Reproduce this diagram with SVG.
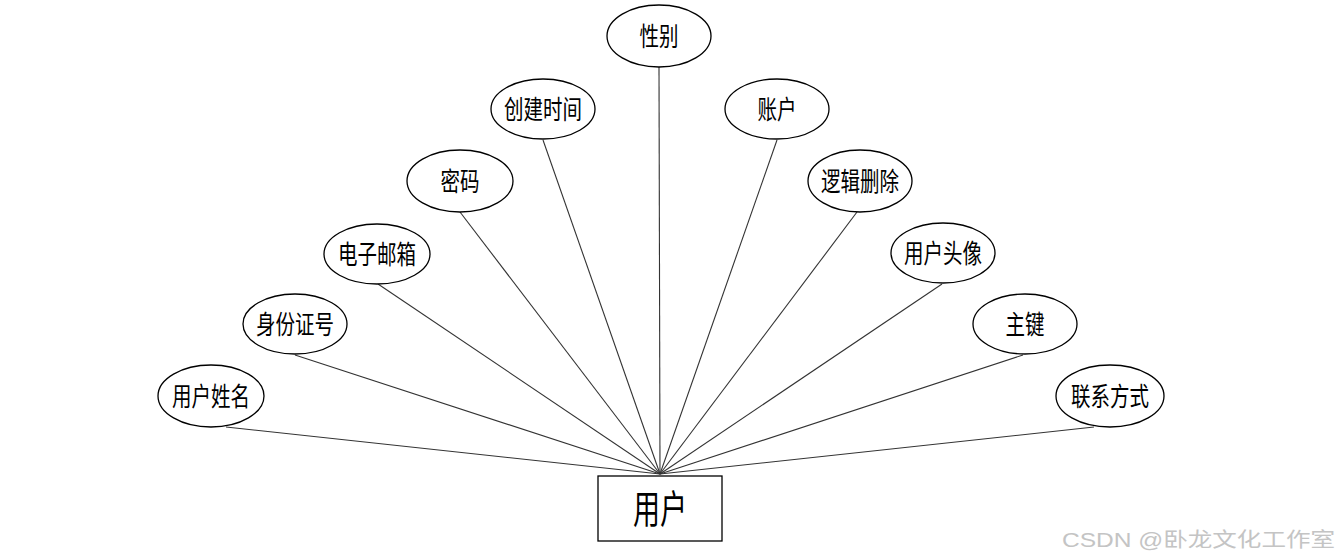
<svg xmlns="http://www.w3.org/2000/svg" width="1340" height="560" viewBox="0 0 1340 560">
<style>
.e{fill:#fff;stroke:#000;stroke-width:1.3}
.t{font-family:"Noto Sans CJK SC","Liberation Sans",sans-serif;font-size:26px;fill:#000;text-anchor:middle}
.c line{stroke:#333;stroke-width:1.1}
</style>
<rect width="1340" height="560" fill="#fff"/>
<g id="connectors" class="c">
<line x1="659" y1="67" x2="660" y2="474"/>
<line x1="543" y1="140" x2="660" y2="474"/>
<line x1="777" y1="140" x2="660" y2="474"/>
<line x1="460" y1="212" x2="660" y2="474"/>
<line x1="857" y1="212" x2="660" y2="474"/>
<line x1="378" y1="284" x2="660" y2="474"/>
<line x1="942" y1="284" x2="660" y2="474"/>
<line x1="295" y1="355" x2="660" y2="474"/>
<line x1="1023" y1="355" x2="660" y2="474"/>
<line x1="226" y1="427" x2="660" y2="474"/>
<line x1="1094" y1="427" x2="660" y2="474"/>
</g>
<g id="n-xingbie"><ellipse class="e" cx="659" cy="36" rx="52" ry="31"/><text class="t" x="659" y="46" textLength="39" lengthAdjust="spacingAndGlyphs">性别</text></g>
<g id="n-chuangjianshijian"><ellipse class="e" cx="543" cy="109" rx="52" ry="30"/><text class="t" x="543" y="119" textLength="78" lengthAdjust="spacingAndGlyphs">创建时间</text></g>
<g id="n-zhanghu"><ellipse class="e" cx="777" cy="109" rx="52" ry="30"/><text class="t" x="777" y="119" textLength="39" lengthAdjust="spacingAndGlyphs">账户</text></g>
<g id="n-mima"><ellipse class="e" cx="460" cy="181" rx="53" ry="31"/><text class="t" x="460" y="191" textLength="39" lengthAdjust="spacingAndGlyphs">密码</text></g>
<g id="n-luojishanchu"><ellipse class="e" cx="860" cy="181" rx="52" ry="31"/><text class="t" x="860" y="191" textLength="78" lengthAdjust="spacingAndGlyphs">逻辑删除</text></g>
<g id="n-dianziyouxiang"><ellipse class="e" cx="377" cy="254" rx="53" ry="30"/><text class="t" x="377" y="264" textLength="78" lengthAdjust="spacingAndGlyphs">电子邮箱</text></g>
<g id="n-yonghutouxiang"><ellipse class="e" cx="943" cy="253" rx="52" ry="30"/><text class="t" x="943" y="263" textLength="78" lengthAdjust="spacingAndGlyphs">用户头像</text></g>
<g id="n-shenfenzhenghao"><ellipse class="e" cx="295" cy="324" rx="52" ry="30"/><text class="t" x="295" y="334" textLength="78" lengthAdjust="spacingAndGlyphs">身份证号</text></g>
<g id="n-zhujian"><ellipse class="e" cx="1025" cy="324" rx="52" ry="30"/><text class="t" x="1025" y="334" textLength="39" lengthAdjust="spacingAndGlyphs">主键</text></g>
<g id="n-yonghuxingming"><ellipse class="e" cx="211" cy="396" rx="53" ry="31"/><text class="t" x="211" y="406" textLength="78" lengthAdjust="spacingAndGlyphs">用户姓名</text></g>
<g id="n-lianxifangshi"><ellipse class="e" cx="1110" cy="396" rx="54" ry="31"/><text class="t" x="1110" y="406" textLength="78" lengthAdjust="spacingAndGlyphs">联系方式</text></g>
<g id="n-yonghu"><rect x="598" y="476" width="124" height="65" fill="#fff" stroke="#000" stroke-width="1.3"/><text class="t" x="660" y="523" style="font-size:39px" textLength="54" lengthAdjust="spacingAndGlyphs">用户</text></g>
<text x="1062" y="547" font-family="'Liberation Sans','Noto Sans CJK SC',sans-serif" font-size="20" fill="#c4c4c4" textLength="273" lengthAdjust="spacingAndGlyphs">CSDN @卧龙文化工作室</text>
</svg>
